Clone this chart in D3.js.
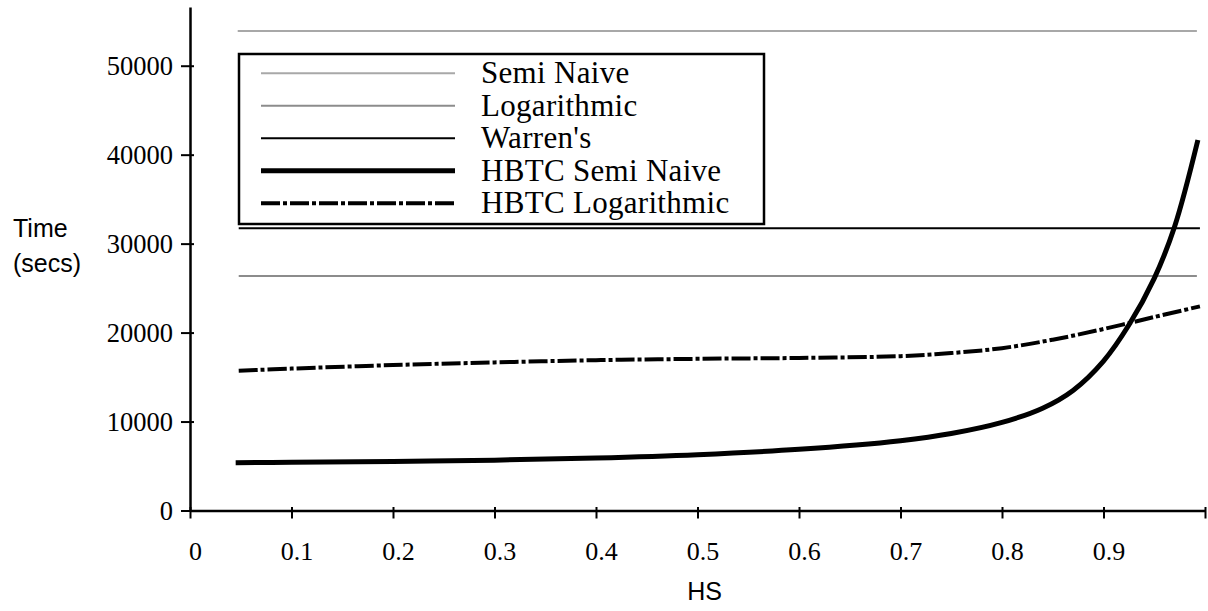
<!DOCTYPE html>
<html>
<head>
<meta charset="utf-8">
<script src="https://cdn.jsdelivr.net/npm/d3@7"></script>
<style>
    html, body { margin: 0; padding: 0; background: #fff; }
    svg { display: block; }
</style>
</head>
<body>
<svg id="chart" width="1208" height="611"></svg>
<script>
// ------------------------------------------------------------
// DATA
// ------------------------------------------------------------
const hsTicks = [0, 0.1, 0.2, 0.3, 0.4, 0.5, 0.6, 0.7, 0.8, 0.9, 1.0];
const timeTicks = [0, 10000, 20000, 30000, 40000, 50000];

const seriesNames = ["Semi Naive", "Logarithmic", "Warren's", "HBTC Semi Naive", "HBTC Logarithmic"];

// flat reference algorithms (do not depend on HS)
const semiNaive   = [[0.047, 53900], [0.992, 53900]];
const logarithmic = [[0.048, 26360], [0.992, 26360]];
const warrens     = [[0.048, 31720], [0.995, 31720]];

const hbtcSemiNaive = [
    [0.045, 5370], [0.1, 5420], [0.2, 5520], [0.3, 5660], [0.4, 5900],
    [0.5, 6280], [0.6, 6880], [0.7, 7850], [0.75, 8650], [0.8, 9900],
    [0.84, 11500], [0.87, 13500], [0.9, 16800], [0.925, 20850],
    [0.95, 26100], [0.97, 31900], [0.993, 41650]
];

const hbtcLogarithmic = [
    [0.048, 15720], [0.1, 15950], [0.2, 16350], [0.3, 16650], [0.4, 16900],
    [0.5, 17050], [0.6, 17150], [0.7, 17350], [0.75, 17700], [0.8, 18250],
    [0.85, 19200], [0.9, 20400], [0.95, 21750], [0.995, 22950]
];

const seriesData = [semiNaive, logarithmic, warrens, hbtcSemiNaive, hbtcLogarithmic];

// ------------------------------------------------------------
// LOOK
// ------------------------------------------------------------
const styles = [
    { stroke: "#a8a8a8", width: 2, dash: null },
    { stroke: "#8c8c8c", width: 2, dash: null },
    { stroke: "#000",    width: 2, dash: null },
    { stroke: "#000",    width: 5, dash: null },
    { stroke: "#000",    width: 4, dash: "19,3,4,3" }
];

const serif = "'Liberation Serif', 'Times New Roman', serif";
const sans = "'Liberation Sans', Arial, sans-serif";

const svg = d3.select("#chart");

const x = d3.scaleLinear().domain([0, 1]).range([190, 1205]);
const y = d3.scaleLinear().domain([0, 56600]).range([510.5, 7]);

// ------------------------------------------------------------
// AXES
// ------------------------------------------------------------
const xAxis = svg.append("g")
    .attr("transform", `translate(0, ${y(0)})`)
    .call(d3.axisBottom(x)
        .tickValues(hsTicks)
        .tickSizeOuter(0)
        .tickFormat(d => d === 1 ? "" : d3.format("~g")(d)));

xAxis.select(".domain").attr("stroke-width", 2.5);
xAxis.selectAll(".tick line")
    .attr("y1", -3.5)
    .attr("y2", 8)
    .attr("stroke-width", 2);
xAxis.selectAll(".tick text")
    .attr("x", 5)
    .attr("y", 49.5)
    .attr("dy", null)
    .attr("fill", "#000")
    .style("font-family", serif)
    .style("font-size", "26px");

const yAxis = svg.append("g")
    .attr("transform", `translate(${x(0)}, 0)`)
    .call(d3.axisLeft(y)
        .tickValues(timeTicks)
        .tickSizeOuter(0)
        .tickFormat(d3.format("d")));

yAxis.select(".domain").attr("stroke-width", 2.5);
yAxis.selectAll(".tick line")
    .attr("x1", 4)
    .attr("x2", -9)
    .attr("stroke-width", 2);
yAxis.selectAll(".tick text")
    .attr("x", -17)
    .attr("dy", "0.35em")
    .attr("fill", "#000")
    .style("font-family", serif)
    .style("font-size", "26.5px");

// axis titles
svg.append("text")
    .attr("x", 13)
    .attr("y", 236.5)
    .style("font-family", sans)
    .style("font-size", "25px")
    .text("Time");

svg.append("text")
    .attr("x", 13)
    .attr("y", 271.5)
    .style("font-family", sans)
    .style("font-size", "25px")
    .text("(secs)");

svg.append("text")
    .attr("x", (x(0) + x(1)) / 2 + 7)
    .attr("y", 600)
    .attr("text-anchor", "middle")
    .style("font-family", sans)
    .style("font-size", "25px")
    .text("HS");

// ------------------------------------------------------------
// SERIES
// ------------------------------------------------------------
const line = d3.line()
    .x(d => x(d[0]))
    .y(d => y(d[1]))
    .curve(d3.curveCatmullRom.alpha(0.5));

svg.append("g").attr("class", "series")
    .selectAll("path")
    .data(seriesData)
    .join("path")
    .attr("d", line)
    .attr("fill", "none")
    .attr("stroke", (d, i) => styles[i].stroke)
    .attr("stroke-width", (d, i) => styles[i].width)
    .attr("stroke-dasharray", (d, i) => styles[i].dash);

// ------------------------------------------------------------
// LEGEND
// ------------------------------------------------------------
const legend = svg.append("g").attr("class", "legend");

legend.append("rect")
    .attr("x", 239)
    .attr("y", 54)
    .attr("width", 525)
    .attr("height", 170)
    .attr("fill", "#fff")
    .attr("stroke", "#000")
    .attr("stroke-width", 2.5);

const rows = legend.selectAll("g.row")
    .data(seriesNames)
    .join("g")
    .attr("class", "row")
    .attr("transform", (d, i) => `translate(0, ${83.3 + i * 32.5})`);

rows.append("line")
    .attr("x1", 261)
    .attr("x2", 455)
    .attr("y1", -10)
    .attr("y2", -10)
    .attr("stroke", (d, i) => styles[i].stroke)
    .attr("stroke-width", (d, i) => styles[i].width)
    .attr("stroke-dasharray", (d, i) => styles[i].dash);

rows.append("text")
    .attr("x", 481)
    .attr("y", 0)
    .style("font-family", serif)
    .style("font-size", "31px")
    .style("letter-spacing", "0.3px")
    .text(d => d);
</script>
</body>
</html>
